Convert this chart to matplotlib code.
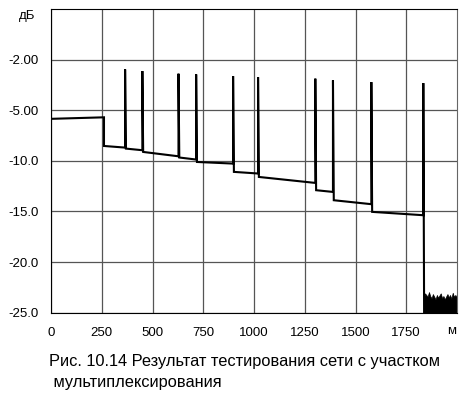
import matplotlib
matplotlib.use("Agg")
import matplotlib.pyplot as plt

plt.rcParams['font.family'] = ['Liberation Sans', 'DejaVu Sans']

# ---- data ----
# segment boundaries (m) and trace level at start / end of each segment (dB)
seg_edges = [0, 261, 365, 450, 628, 715, 897, 1020, 1302, 1389, 1578, 1834]
level_start = [-5.85, -8.53, -8.79, -9.12, -9.67, -10.11, -11.09, -11.59, -12.90, -13.89, -15.04]
level_end = [-5.70, -8.69, -8.95, -9.55, -9.87, -10.27, -11.25, -12.18, -13.07, -14.28, -15.37]
# reflective peaks at the end of each segment (None = plain step)
peak_db = [None, -0.97, -1.13, -1.39, -1.46, -1.63, -1.73, -1.88, -2.05, -2.22, -2.32]
floor_db = -25.0

# noise floor beyond the end of the line
noise_x = [1836, 1842, 1849, 1855, 1862, 1868, 1875, 1881, 1888, 1894, 1901, 1907, 1914,
           1920, 1927, 1933, 1940, 1946, 1953, 1959, 1966, 1972, 1979, 1985, 1992, 2000]
noise_top = [-23.70, -23.09, -23.25, -23.42, -22.96, -23.35, -23.58, -23.16, -23.42, -23.68,
             -23.25, -23.52, -23.28, -23.09, -23.58, -23.35, -23.68, -23.42, -23.16, -23.48,
             -23.25, -23.62, -23.03, -23.42, -23.25, -23.50]

xticks = [0, 250, 500, 750, 1000, 1250, 1500, 1750]
xticklabels = ['0', '250', '500', '750', '1000', '1250', '1500', '1750']
yticks = [0, -5, -10, -15, -20, -25]
yticklabels = ['-2.00', '-5.00', '-10.0', '-15.0', '-20.0', '-25.0']
caption = "Рис. 10.14 Результат тестирования сети с участком\n мультиплексирования"

# ---- build trace ----
tx, ty = [seg_edges[0]], [level_start[0]]
for i in range(len(level_start)):
    end_x = seg_edges[i + 1]
    tx.append(end_x)
    ty.append(level_end[i])
    nxt = level_start[i + 1] if i + 1 < len(level_start) else floor_db
    if peak_db[i] is not None:
        tx += [end_x, end_x + 4]
        ty += [peak_db[i], nxt]
    else:
        tx.append(end_x)
        ty.append(nxt)

fig = plt.figure(figsize=(4.75, 3.97), dpi=100)
ax = fig.add_axes([51 / 475, 1 - 312.7 / 397, (457 - 51) / 475, (312.7 - 9) / 397])
ax.set_xlim(0, 2000)
ax.set_ylim(-25, 5)

ax.plot(tx, ty, color='black', lw=1.5, solid_joinstyle='miter')
ax.fill_between(noise_x, floor_db, noise_top, color='black', lw=0.5)

ax.set_xticks(xticks)
ax.set_xticklabels(xticklabels)
ax.set_yticks(yticks)
ax.set_yticklabels(yticklabels)
ax.tick_params(length=0, labelsize=9.5)
ax.tick_params(axis='x', pad=10)
ax.tick_params(axis='y', pad=9)
ax.grid(True, color='#555555', lw=0.9)
ax.set_axisbelow(True)
for s in ax.spines.values():
    s.set_color('black')
    s.set_linewidth(0.8)
ax.spines['right'].set_color('#666666')

fig.text(27 / 475, 1 - 16 / 397, 'дБ', ha='center', va='center', fontsize=9.5)
fig.text(452 / 475, 1 - 331 / 397, 'м', ha='center', va='center', fontsize=9.5)
fig.text(49 / 475, 1 - 354 / 397, caption, ha='left', va='top', fontsize=11.8,
         linespacing=1.5)

fig.savefig('out.png', dpi=100)
